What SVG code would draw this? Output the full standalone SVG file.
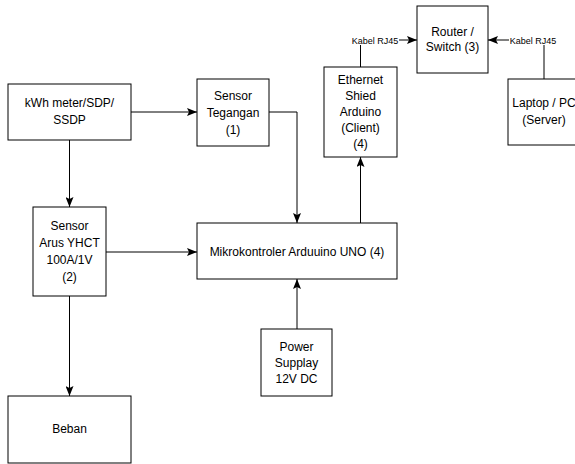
<svg xmlns="http://www.w3.org/2000/svg" width="575" height="464" viewBox="0 0 575 464">
<defs>
<marker id="arr" viewBox="0 0 10 8" refX="10" refY="4" markerWidth="10" markerHeight="8" markerUnits="userSpaceOnUse" orient="auto">
<path d="M0,0 L10,4 L0,8 L2,4 Z" fill="#000"/>
</marker>
</defs>
<style>
.box{fill:#fff;stroke:#000;stroke-width:1}
.t{font-family:"Liberation Sans",Arial,sans-serif;font-size:12px;fill:#000;text-anchor:middle}
.s{font-family:"Liberation Sans",Arial,sans-serif;font-size:9px;fill:#000;text-anchor:middle}
.c{fill:none;stroke:#000;stroke-width:1}
.a{marker-end:url(#arr)}
</style>
<rect width="575" height="464" fill="#fff"/>
<g id="connectors">
<path class="c a" d="M131,112 H197"/>
<path class="c a" d="M269,112 H297 V223"/>
<path class="c a" d="M69.5,140 V207"/>
<path class="c a" d="M106,252 H197"/>
<path class="c a" d="M69.5,296 V396"/>
<path class="c a" d="M297,329 V279"/>
<path class="c a" d="M360.5,223 V157"/>
<path class="c a" d="M360.5,67 V40 H417"/>
<path class="c a" d="M544,79 V40 H488"/>
<rect x="351" y="35" width="48" height="10" fill="#fff"/>
<text class="s" x="375" y="43.5">Kabel RJ45</text>
<rect x="509" y="35" width="48" height="10" fill="#fff"/>
<text class="s" x="533" y="43.5">Kabel RJ45</text>
</g>
<g id="kwh">
<rect class="box" x="8" y="84" width="123" height="56"/>
<text class="t" x="69.5" y="107">kWh meter/SDP/</text>
<text class="t" x="69.5" y="124">SSDP</text>
</g>
<g id="tegangan">
<rect class="box" x="197" y="79" width="72" height="67"/>
<text class="t" x="233" y="100">Sensor</text>
<text class="t" x="233" y="117">Tegangan</text>
<text class="t" x="233" y="134">(1)</text>
</g>
<g id="arus">
<rect class="box" x="33" y="207" width="73" height="89"/>
<text class="t" x="69.5" y="230">Sensor</text>
<text class="t" x="69.5" y="247">Arus YHCT</text>
<text class="t" x="69.5" y="264">100A/1V</text>
<text class="t" x="69.5" y="281">(2)</text>
</g>
<g id="mikro">
<rect class="box" x="197" y="223" width="200" height="56"/>
<text class="t" x="297" y="256">Mikrokontroler Arduuino UNO (4)</text>
</g>
<g id="beban">
<rect class="box" x="8" y="396" width="123" height="67"/>
<text class="t" x="69.5" y="433">Beban</text>
</g>
<g id="power">
<rect class="box" x="261" y="329" width="71" height="67"/>
<text class="t" x="296.5" y="351">Power</text>
<text class="t" x="296.5" y="367">Supplay</text>
<text class="t" x="296.5" y="383">12V DC</text>
</g>
<g id="ethernet">
<rect class="box" x="324" y="67" width="73" height="90"/>
<text class="t" x="360.5" y="84">Ethernet</text>
<text class="t" x="360.5" y="100">Shied</text>
<text class="t" x="360.5" y="116">Arduino</text>
<text class="t" x="360.5" y="132">(Client)</text>
<text class="t" x="360.5" y="148">(4)</text>
</g>
<g id="router">
<rect class="box" x="417" y="6" width="71" height="67"/>
<text class="t" x="452.5" y="36">Router /</text>
<text class="t" x="452.5" y="51">Switch (3)</text>
</g>
<g id="laptop">
<rect class="box" x="508" y="79" width="72" height="66"/>
<text class="t" x="544" y="107">Laptop / PC</text>
<text class="t" x="544" y="124">(Server)</text>
</g>
</svg>
